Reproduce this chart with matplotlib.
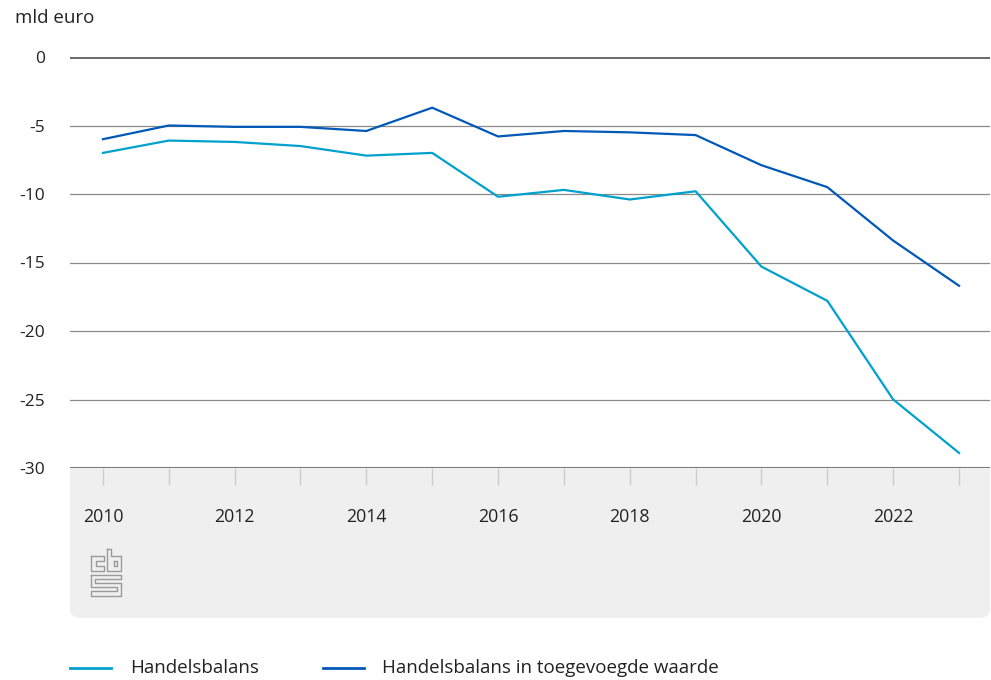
import matplotlib.pyplot as plt
from matplotlib.patches import FancyBboxPatch, Rectangle
from matplotlib.lines import Line2D

plt.rcParams['font.family'] = ['Open Sans', 'DejaVu Sans']

years = list(range(2010, 2024))
handelsbalans = [-7.0, -6.1, -6.2, -6.5, -7.2, -7.0, -10.2, -9.7, -10.4, -9.8,
                 -15.3, -17.8, -25.0, -28.9]
toegevoegde_waarde = [-6.0, -5.0, -5.1, -5.1, -5.4, -3.7, -5.8, -5.4, -5.5, -5.7,
                      -7.9, -9.5, -13.4, -16.7]
yticks = [0, -5, -10, -15, -20, -25, -30]
xticks = [2010, 2012, 2014, 2016, 2018, 2020, 2022]

LIGHT = '#00a1cd'
DARK = '#0058b8'
TXT = '#222222'
W, H = 991, 680

fig = plt.figure(figsize=(W / 100, H / 100), dpi=100)

# grey footer panel under the plot, rounded at the bottom
panel = FancyBboxPatch((70 / W, 1 - 618 / H), 920 / W, 150 / H,
                       boxstyle='round,pad=0,rounding_size=0.012',
                       transform=fig.transFigure, facecolor='#efefef',
                       edgecolor='none', zorder=-2)
fig.patches.append(panel)
fig.patches.append(Rectangle((70 / W, 1 - 500 / H), 920 / W, 32 / H,
                             transform=fig.transFigure, facecolor='#efefef',
                             edgecolor='none', zorder=-2))

ax = fig.add_axes([70 / W, 1 - 468 / H, 920 / W, 411 / H])
ax.set_facecolor('white')
ax.set_xlim(2009.5, 2023.47)
ax.set_ylim(-30, 0)

for v in yticks:
    if v == 0:
        ax.axhline(v, color='#6e6e6e', lw=2.2, zorder=1)
    elif v == -30:
        ax.axhline(v, color='#7a7a7a', lw=1.5, zorder=1)
    else:
        ax.axhline(v, color='#8a8a8a', lw=0.9, zorder=1)

ax.plot(years, handelsbalans, color=LIGHT, lw=1.6, zorder=3,
        solid_joinstyle='miter')
ax.plot(years, toegevoegde_waarde, color=DARK, lw=1.6, zorder=3,
        solid_joinstyle='miter')

for s in ax.spines.values():
    s.set_visible(False)

ax.set_yticks(yticks)
ax.set_yticklabels([str(v) for v in yticks])
ax.tick_params(axis='y', length=0, pad=18, labelsize=12.5, labelcolor=TXT)

ax.set_xticks(years, minor=True)
ax.set_xticks(xticks)
ax.set_xticklabels([str(v) for v in xticks])
ax.tick_params(axis='x', which='both', length=12, width=1, color='#cccccc',
               direction='out')
ax.tick_params(axis='x', which='major', pad=17, labelsize=12.8,
               labelcolor=TXT)

fig.text(15 / W, 1 - 18 / H, 'mld euro', ha='left', va='center',
         fontsize=13.5, color=TXT)

# cbs logo mark
logo = [
    [(91, 556), (91, 571), (104, 571), (104, 566), (96, 566), (96, 561), (104, 561), (104, 556), (91, 556)],
    [(107, 549), (107, 571), (121, 571), (121, 556), (111, 556), (111, 549), (107, 549)],
    [(114, 561), (117, 561), (117, 566), (114, 566), (114, 561)],
    [(91, 575), (91, 587), (117, 587), (117, 591), (91, 591), (91, 596), (121, 596),
     (121, 583), (95, 583), (95, 579), (121, 579), (121, 575), (91, 575)],
]
for pts in logo:
    xs = [p[0] / W for p in pts]
    ys = [1 - p[1] / H for p in pts]
    fig.add_artist(Line2D(xs, ys, transform=fig.transFigure, color='#9a9a9a',
                          lw=1.0))

# legend row
for x0, color, label, tx in [(70, LIGHT, 'Handelsbalans', 130),
                             (323, DARK, 'Handelsbalans in toegevoegde waarde', 382)]:
    fig.add_artist(Line2D([x0 / W, (x0 + 41) / W], [1 - 668 / H] * 2,
                          transform=fig.transFigure, color=color, lw=2))
    fig.text(tx / W, 1 - 668 / H, label, ha='left', va='center',
             fontsize=13.5, color=TXT)

fig.savefig('out.png', dpi=100)
